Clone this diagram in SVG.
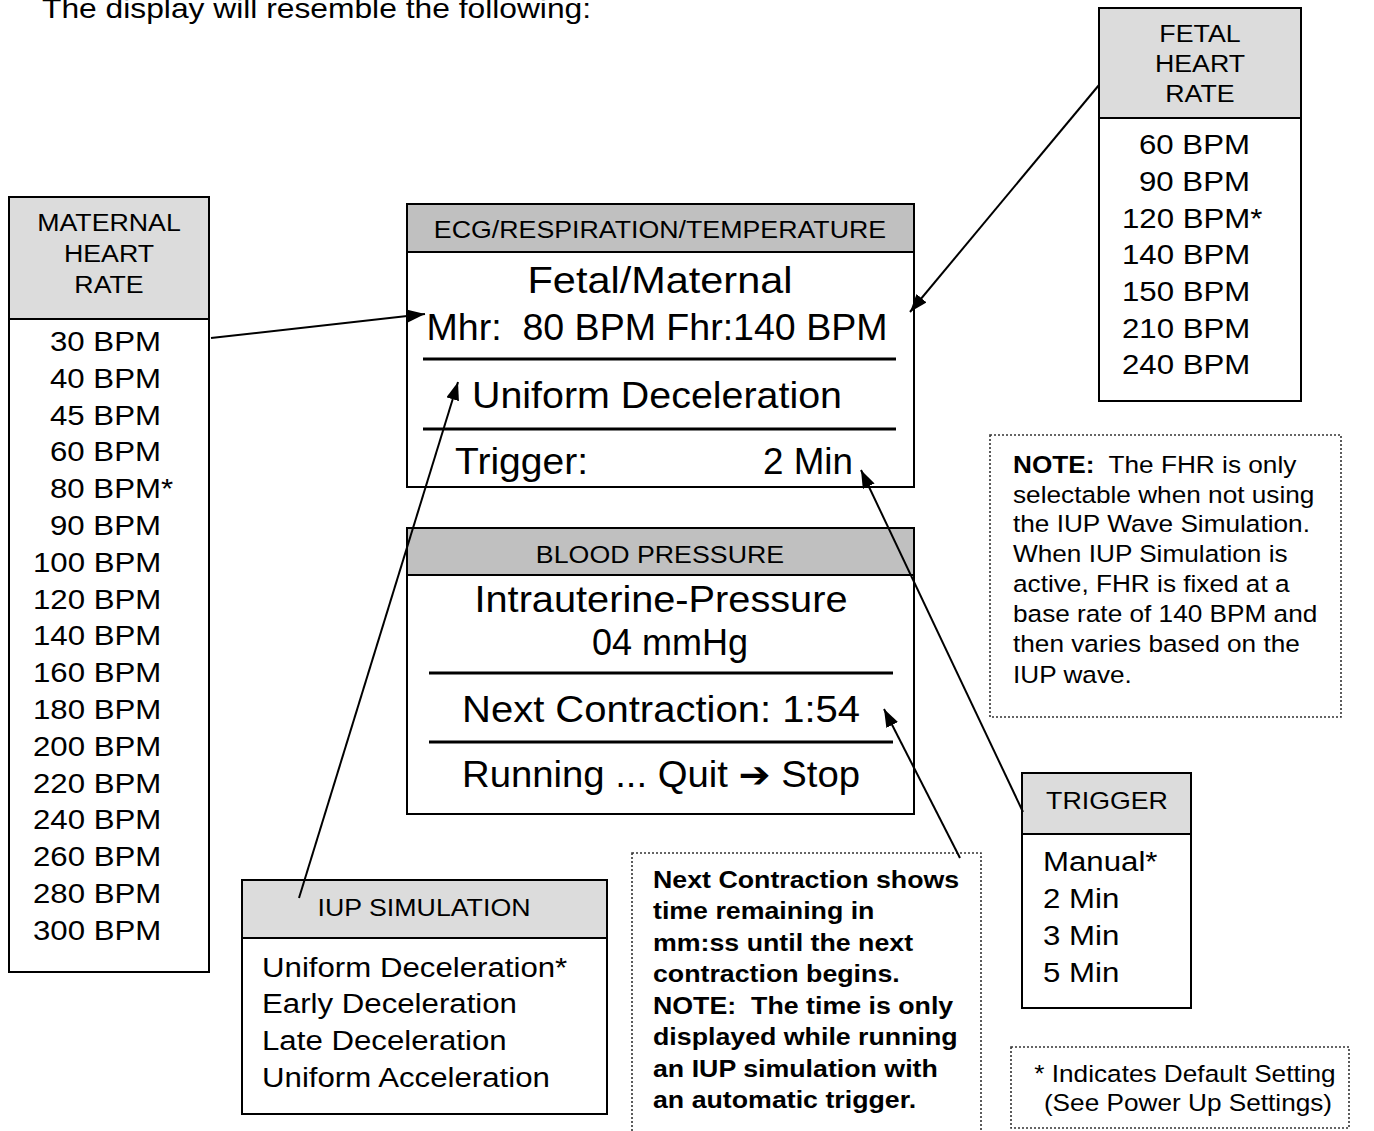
<svg xmlns="http://www.w3.org/2000/svg" width="1374" height="1131" viewBox="0 0 1374 1131">
<style>
text{font-family:"Liberation Sans",Arial,sans-serif;fill:#000}
.sx{transform:scaleX(1.115);transform-box:fill-box;transform-origin:center}
.sxl{transform:scaleX(1.115);transform-box:fill-box;transform-origin:left}
.hdr{fill:#dcdcdc;stroke:#000;stroke-width:2}
.lst{fill:#fff;stroke:#000;stroke-width:2}
.lcdh{fill:#c0c0c0;stroke:#000;stroke-width:2}
.h24{font-size:24px;text-anchor:middle}
.l28{font-size:28px}
.n23{font-size:23.5px}
.b24{font-size:24px;font-weight:bold}
.lcd{font-size:36px}
.sep{stroke:#000;stroke-width:3}
.dot{fill:none;stroke:#333;stroke-width:1.6;stroke-dasharray:2 2}
.con{stroke:#000;stroke-width:2;fill:none;marker-end:url(#ah)}
</style>
<defs>
<marker id="ah" markerUnits="userSpaceOnUse" markerWidth="20" markerHeight="14" refX="18" refY="6.5" orient="auto">
<path d="M0,0 L18,6.5 L0,13 z" fill="#000"/>
</marker>
</defs>
<rect width="1374" height="1131" fill="#fff"/>

<text id="intro" class="sxl" x="42" y="18" font-size="28.5">The display will resemble the following:</text>

<g id="maternal">
<rect class="hdr" x="9" y="197" width="200" height="122"/>
<rect class="lst" x="9" y="319" width="200" height="653"/>
<text class="h24 sx" x="109" y="231">MATERNAL</text>
<text class="h24 sx" x="109" y="262">HEART</text>
<text class="h24 sx" x="109" y="293">RATE</text>
<text class="l28 sxl" x="50" y="351">30 BPM</text>
<text class="l28 sxl" x="50" y="388">40 BPM</text>
<text class="l28 sxl" x="50" y="425">45 BPM</text>
<text class="l28 sxl" x="50" y="461">60 BPM</text>
<text class="l28 sxl" x="50" y="498">80 BPM*</text>
<text class="l28 sxl" x="50" y="535">90 BPM</text>
<text class="l28 sxl" x="33" y="572">100 BPM</text>
<text class="l28 sxl" x="33" y="609">120 BPM</text>
<text class="l28 sxl" x="33" y="645">140 BPM</text>
<text class="l28 sxl" x="33" y="682">160 BPM</text>
<text class="l28 sxl" x="33" y="719">180 BPM</text>
<text class="l28 sxl" x="33" y="756">200 BPM</text>
<text class="l28 sxl" x="33" y="793">220 BPM</text>
<text class="l28 sxl" x="33" y="829">240 BPM</text>
<text class="l28 sxl" x="33" y="866">260 BPM</text>
<text class="l28 sxl" x="33" y="903">280 BPM</text>
<text class="l28 sxl" x="33" y="940">300 BPM</text>
</g>

<g id="fetal">
<rect class="hdr" x="1099" y="8" width="202" height="110"/>
<rect class="lst" x="1099" y="118" width="202" height="283"/>
<text class="h24 sx" x="1200" y="42">FETAL</text>
<text class="h24 sx" x="1200" y="72">HEART</text>
<text class="h24 sx" x="1200" y="102">RATE</text>
<text class="l28 sxl" x="1139" y="154">60 BPM</text>
<text class="l28 sxl" x="1139" y="191">90 BPM</text>
<text class="l28 sxl" x="1122" y="228">120 BPM*</text>
<text class="l28 sxl" x="1122" y="264">140 BPM</text>
<text class="l28 sxl" x="1122" y="301">150 BPM</text>
<text class="l28 sxl" x="1122" y="338">210 BPM</text>
<text class="l28 sxl" x="1122" y="374">240 BPM</text>
</g>

<g id="ecg">
<rect class="lst" x="407" y="204" width="507" height="283"/>
<rect class="lcdh" x="407" y="204" width="507" height="48"/>
<text class="h24 sx" x="660" y="238">ECG/RESPIRATION/TEMPERATURE</text>
<text class="lcd" x="660" y="293" text-anchor="middle" textLength="265" lengthAdjust="spacingAndGlyphs">Fetal/Maternal</text>
<text class="lcd" x="657" y="340" font-size="34" text-anchor="middle" textLength="461" lengthAdjust="spacingAndGlyphs" xml:space="preserve">Mhr:  80 BPM Fhr:140 BPM</text>
<line class="sep" x1="423" y1="359" x2="896" y2="359"/>
<text class="lcd" x="657" y="408" text-anchor="middle" textLength="370" lengthAdjust="spacingAndGlyphs">Uniform Deceleration</text>
<line class="sep" x1="423" y1="429" x2="896" y2="429"/>
<text class="lcd" x="455" y="474" textLength="133" lengthAdjust="spacingAndGlyphs">Trigger:</text>
<text class="lcd" x="763" y="474" textLength="90" lengthAdjust="spacingAndGlyphs">2 Min</text>
</g>

<g id="bp">
<rect class="lst" x="407" y="528" width="507" height="286"/>
<rect class="lcdh" x="407" y="528" width="507" height="47"/>
<text class="h24 sx" x="660" y="563">BLOOD PRESSURE</text>
<text class="lcd" x="661" y="612" font-size="34" text-anchor="middle" textLength="373" lengthAdjust="spacingAndGlyphs">Intrauterine-Pressure</text>
<text class="lcd" x="670" y="655" font-size="31" text-anchor="middle" textLength="156" lengthAdjust="spacingAndGlyphs">04 mmHg</text>
<line class="sep" x1="429" y1="673" x2="893" y2="673"/>
<text class="lcd" x="661" y="722" text-anchor="middle" textLength="398" lengthAdjust="spacingAndGlyphs">Next Contraction: 1:54</text>
<line class="sep" x1="429" y1="742" x2="893" y2="742"/>
<text class="lcd" x="661" y="787" text-anchor="middle" textLength="398" lengthAdjust="spacingAndGlyphs">Running ... Quit <tspan font-family="DejaVu Sans,sans-serif">➔</tspan> Stop</text>
</g>

<g id="iup">
<rect class="hdr" x="242" y="880" width="365" height="58"/>
<rect class="lst" x="242" y="938" width="365" height="176"/>
<text class="h24 sx" x="424" y="916">IUP SIMULATION</text>
<text class="l28 sxl" x="262" y="977">Uniform Deceleration*</text>
<text class="l28 sxl" x="262" y="1013">Early Deceleration</text>
<text class="l28 sxl" x="262" y="1050">Late Deceleration</text>
<text class="l28 sxl" x="262" y="1087">Uniform Acceleration</text>
</g>

<g id="trigger">
<rect class="hdr" x="1022" y="773" width="169" height="61"/>
<rect class="lst" x="1022" y="834" width="169" height="174"/>
<text class="h24 sx" x="1107" y="809">TRIGGER</text>
<text class="l28 sxl" x="1043" y="871">Manual*</text>
<text class="l28 sxl" x="1043" y="908">2 Min</text>
<text class="l28 sxl" x="1043" y="945">3 Min</text>
<text class="l28 sxl" x="1043" y="982">5 Min</text>
</g>

<g id="note-fhr">
<rect class="dot" x="990" y="435" width="351" height="282"/>
<text class="n23 sxl" x="1013" y="473" xml:space="preserve"><tspan font-weight="bold">NOTE:</tspan>  The FHR is only</text>
<text class="n23 sxl" x="1013" y="503">selectable when not using</text>
<text class="n23 sxl" x="1013" y="532">the IUP Wave Simulation.</text>
<text class="n23 sxl" x="1013" y="562">When IUP Simulation is</text>
<text class="n23 sxl" x="1013" y="592">active, FHR is fixed at a</text>
<text class="n23 sxl" x="1013" y="622">base rate of 140 BPM and</text>
<text class="n23 sxl" x="1013" y="652">then varies based on the</text>
<text class="n23 sxl" x="1013" y="683">IUP wave.</text>
</g>

<g id="note-contraction">
<rect class="dot" x="632" y="853" width="349" height="300"/>
<text class="b24 sxl" x="653" y="888">Next Contraction shows</text>
<text class="b24 sxl" x="653" y="919">time remaining in</text>
<text class="b24 sxl" x="653" y="951">mm:ss until the next</text>
<text class="b24 sxl" x="653" y="982">contraction begins.</text>
<text class="b24 sxl" x="653" y="1014" xml:space="preserve">NOTE:  The time is only</text>
<text class="b24 sxl" x="653" y="1045">displayed while running</text>
<text class="b24 sxl" x="653" y="1077">an IUP simulation with</text>
<text class="b24 sxl" x="653" y="1108">an automatic trigger.</text>
</g>

<g id="note-default">
<rect class="dot" x="1011" y="1047" width="338" height="81"/>
<text class="n23 sx" x="1185" y="1082" text-anchor="middle">* Indicates Default Setting</text>
<text class="n23 sx" x="1188" y="1111" text-anchor="middle">(See Power Up Settings)</text>
</g>

<g id="connectors">
<line class="con" x1="211" y1="338" x2="425" y2="314"/>
<line class="con" x1="1099" y1="85" x2="910" y2="312"/>
<line class="con" x1="299" y1="898" x2="458" y2="382"/>
<line class="con" x1="1023" y1="812" x2="861" y2="470"/>
<line class="con" x1="960" y1="858" x2="884" y2="709"/>
</g>
</svg>
